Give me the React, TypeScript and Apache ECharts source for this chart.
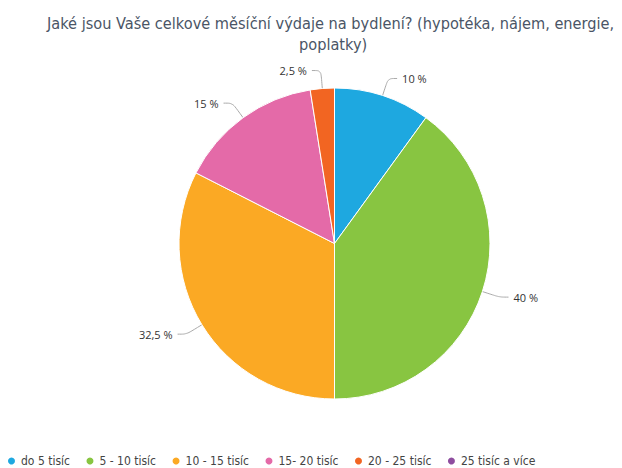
import React, { useEffect, useRef } from "react";
import * as echarts from "echarts";

const categories = ["do 5 tisíc", "5 - 10 tisíc", "10 - 15 tisíc", "15- 20 tisíc", "20 - 25 tisíc", "25 tisíc a více"];
const values = [10, 40, 32.5, 15, 2.5, 0];
const colors = ["#1ea8e0", "#88c541", "#fba924", "#e46aa8", "#f26522", "#8e4d9f"];
const titleLine1 = "Jaké jsou Vaše celkové měsíční výdaje na bydlení? (hypotéka, nájem, energie,";
const titleLine2 = "poplatky)";

export default function App() {
  const ref = useRef<HTMLDivElement>(null);
  useEffect(() => {
    if (!ref.current) return;
    const chart = echarts.init(ref.current, null, { renderer: "svg" });
    const titleStyle = { fontFamily: "'DejaVu Sans Condensed', 'DejaVu Sans', sans-serif", fontSize: 16.2, fontWeight: "normal", color: "#4a5566" };
    chart.setOption({
      animation: false,
      title: [
        { text: titleLine1, left: 47, top: 15, padding: 0, textStyle: titleStyle },
        { text: titleLine2, left: 299, top: 36, padding: 0, textStyle: titleStyle },
      ],
      legend: {
        left: 6,
        top: 455,
        padding: 0,
        icon: "circle",
        itemWidth: 9,
        itemHeight: 9,
        itemGap: 14.5,
        data: categories,
        textStyle: { fontFamily: "'DejaVu Sans Condensed', sans-serif", fontSize: 12, color: "#444" },
      },
      series: [
        {
          type: "pie",
          center: [334.5, 243.5],
          radius: [0, 155.5],
          startAngle: 90,
          clockwise: true,
          avoidLabelOverlap: false,
          itemStyle: { borderColor: "#fff", borderWidth: 1 },
          label: {
            formatter: (p: any) => String(p.value).replace(".", ",") + " %",
            fontFamily: "'Open Sans', sans-serif",
            fontSize: 11,
            color: "#333",
          },
          labelLine: { length: 18, length2: 9, smooth: true, lineStyle: { color: "#aaa", width: 1 } },
          data: categories.map((name, i) => ({
            name,
            value: values[i],
            itemStyle: { color: colors[i] },
            ...(values[i] === 0 ? { label: { show: false }, labelLine: { show: false } } : {}),
          })),
        },
      ],
    });
    return () => chart.dispose();
  }, []);
  return <div ref={ref} style={{ width: 622, height: 468, position: "absolute", left: 0, top: 0 }} />;
}
